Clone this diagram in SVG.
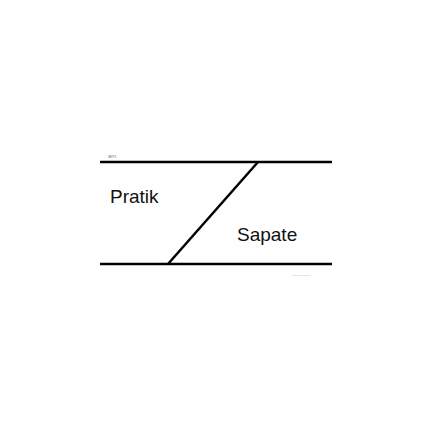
<svg xmlns="http://www.w3.org/2000/svg" width="432" height="432" viewBox="0 0 432 432">
<style>
.l{stroke:#000;stroke-width:2.5;fill:none}
.t{font-family:"Liberation Sans",Arial,sans-serif;fill:#111}
.s{font-family:"Liberation Sans",Arial,sans-serif;fill:#888;font-size:6px}
</style>
<rect width="432" height="432" fill="#fff"/>
<g id="lines">
<line class="l" x1="100" y1="162" x2="332" y2="162"/>
<line class="l" x1="100" y1="264" x2="332" y2="264"/>
<line class="l" x1="258" y1="162" x2="168" y2="264"/>
</g>
<text class="s" x="108" y="158">am</text>
<text class="t" x="110" y="203" font-size="19">Pratik</text>
<text class="t" x="237" y="241" font-size="19">Sapate</text>
<text class="s" x="292" y="276" font-size="5">...........</text>
</svg>
